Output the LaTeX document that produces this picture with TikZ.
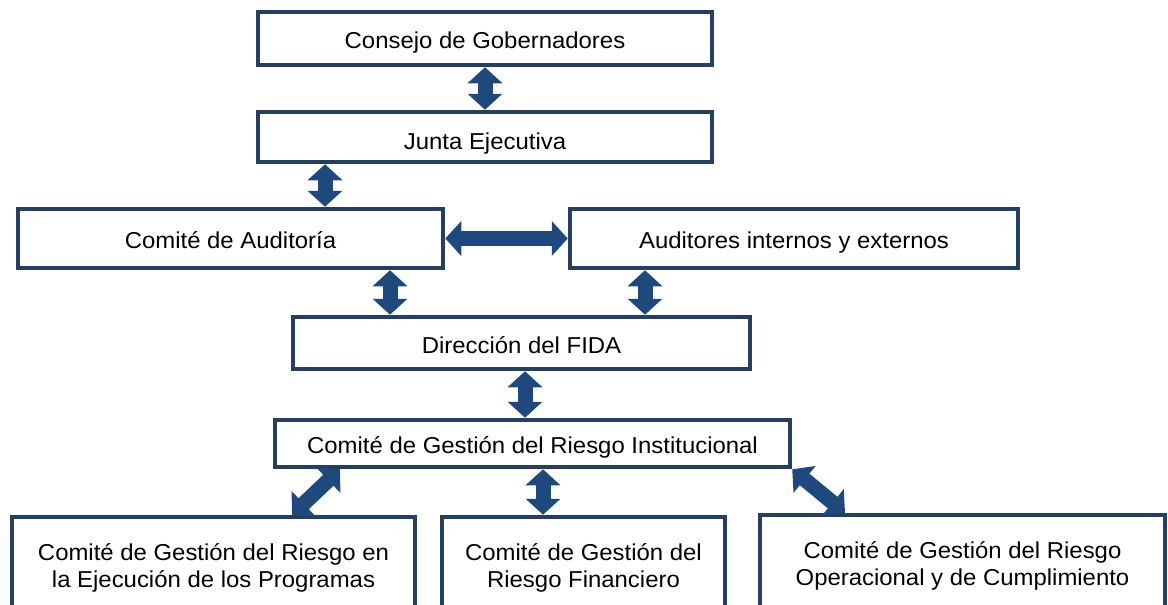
\documentclass[tikz,border=0pt]{standalone}
\usepackage{fontspec}
\setmainfont{Liberation Sans}[FakeStretch=1.04]
\usetikzlibrary{arrows.meta}
\definecolor{boxline}{HTML}{263F5E}
\definecolor{arrowblue}{HTML}{1F497D}
\tikzset{
  box/.style={draw=boxline, line width=4.5pt, fill=white, inner sep=2pt, align=center, font=\fontsize{23}{27}\selectfont},
  oneline/.style={text height=20pt, text depth=0pt},
  biarrow/.style={draw=arrowblue, line width=15pt,
    {Triangle[width=34pt,length=16pt]}-{Triangle[width=34pt,length=16pt]}}
}
\begin{document}
\begin{tikzpicture}[x=1pt,y=-1pt]
\useasboundingbox (0,0) rectangle (1168,605);
\node[box, oneline, minimum width=454pt, minimum height=53pt] (cg) at (485,38.5) {Consejo de Gobernadores};
\node[box, oneline, text height=24pt, minimum width=454pt, minimum height=50pt] (je) at (485,137) {Junta Ejecutiva};
\node[box, oneline, minimum width=425pt, minimum height=59pt] (ca) at (230.5,238.5) {Comité de Auditoría};
\node[box, oneline, minimum width=448pt, minimum height=59pt] (ai) at (794,238.5) {Auditores internos y externos};
\node[box, oneline, minimum width=457pt, minimum height=52pt] (df) at (521.5,343) {Dirección del FIDA};
\node[box, oneline, minimum width=515pt, minimum height=47pt] (cr) at (532.5,443.5) {Comité de Gestión del Riesgo Institucional};
\node[box, minimum width=403pt, minimum height=102pt] (b1) at (213.5,568) {Comité de Gestión del Riesgo en\\la Ejecución de los Programas};
\node[box, minimum width=283pt, minimum height=102pt] (b2) at (583.5,568) {Comité de Gestión del\\Riesgo Financiero};
\node[box, minimum width=405pt, minimum height=102pt] (b3) at (962.5,566) {Comité de Gestión del Riesgo\\Operacional y de Cumplimiento};

\draw[biarrow] (cg.south) -- (je.north);
\draw[biarrow] ([xshift=-160pt]je.south) -- ([xshift=94.5pt]ca.north);
\draw[biarrow] (ca.east) -- (ai.west);
\draw[biarrow] ([xshift=159.5pt]ca.south) -- ([xshift=-131.5pt]df.north);
\draw[biarrow] ([xshift=-149pt]ai.south) -- ([xshift=123.5pt]df.north);
\draw[biarrow] ([xshift=3.5pt]df.south) -- ([xshift=-7.5pt]cr.north);
\draw[biarrow] ([xshift=-192.5pt]cr.south) -- ([xshift=78.5pt]b1.north);
\draw[biarrow] ([xshift=10.5pt]cr.south) -- ([xshift=-40.5pt]b2.north);
\draw[biarrow] (cr.south east) -- ([xshift=-117.5pt]b3.north);
\end{tikzpicture}
\end{document}
